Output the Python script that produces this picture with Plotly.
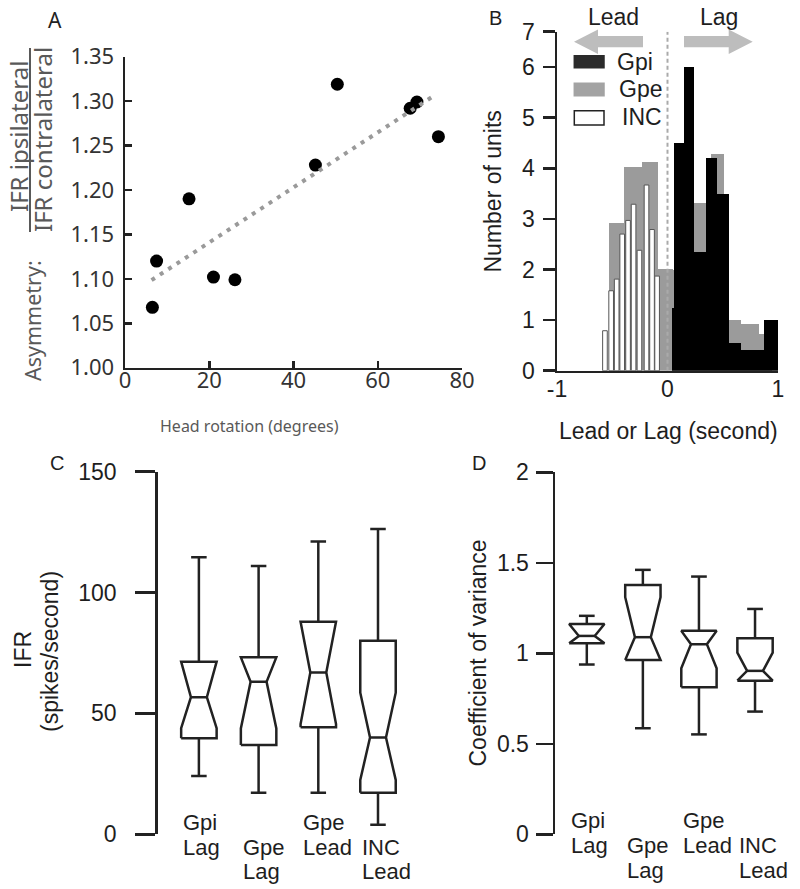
import numpy as np
import plotly.graph_objects as go

W, H = 800, 889

# ---------------- Panel A data ----------------
head_rotation = [6.5, 7.5, 15.2, 21.0, 26.1, 45.2, 50.4, 67.7, 69.3, 74.4]
asymmetry = [1.068, 1.120, 1.190, 1.102, 1.099, 1.228, 1.319, 1.292, 1.299, 1.260]
fit_span = [6.3, 73.2]
a_xticks = [0, 20, 40, 60, 80]
a_yticks = [1.00, 1.05, 1.10, 1.15, 1.20, 1.25, 1.30, 1.35]

# ---------------- Panel B data ----------------
gpi_edges = [0.04, 0.056, 0.147, 0.242, 0.345, 0.448, 0.558, 0.664, 0.773, 0.876, 1.0]
gpi_counts = [1.23, 4.5, 6.0, 2.35, 4.2, 3.5, 0.54, 0.41, 0.41, 1.0]
gpe_edges = [-0.53, -0.39, -0.23, -0.085, 0.05, 0.24, 0.39, 0.51, 0.664, 0.83, 0.95]
gpe_counts = [2.91, 4.03, 4.12, 2.01, 2.0, 3.32, 4.29, 1.0, 0.92, 0.72]
inc_centers = [-0.566, -0.51, -0.46, -0.41, -0.357, -0.307, -0.254, -0.19, -0.14, -0.094]
inc_counts = [0.79, 1.58, 1.81, 2.70, 2.97, 3.29, 2.38, 3.67, 2.79, 1.87]
b_yticks = [0, 1, 2, 3, 4, 5, 6, 6.7]
b_yticktext = ["0", "1", "2", "3", "4", "5", "6", "7"]
b_xticks = [-1, 0, 1]
b_xticktext = ["-1", "0", "1"]

# ---------------- Panel C / D data ----------------
group_lines = [["Gpi", "Lag"], ["Gpe", "Lag"], ["Gpe", "Lead"], ["INC", "Lead"]]
# stats order: lower whisker, q1, notch low, median, notch high, q3, upper whisker
ifr_stats = [
    [24.1, 39.7, 43.9, 56.7, 71.4, 71.4, 114.6],
    [17.2, 36.9, 43.8, 63.1, 73.2, 73.2, 111.0],
    [17.2, 44.3, 45.6, 66.9, 87.9, 87.9, 121.1],
    [3.9, 17.2, 22.5, 40.0, 58.6, 80.1, 126.3],
]
cv_stats = [
    [0.938, 1.056, 1.056, 1.096, 1.162, 1.162, 1.207],
    [0.586, 0.963, 0.963, 1.089, 1.310, 1.378, 1.461],
    [0.552, 0.8125, 0.9175, 1.050, 1.124, 1.124, 1.424],
    [0.678, 0.849, 0.849, 0.903, 1.004, 1.083, 1.245],
]
c_yticks = [0, 50, 100, 150]
d_yticks = [0, 0.5, 1, 1.5, 2]
d_yticktext = ["0", "0.5", "1", "1.5", "2"]

# ---------------- helpers ----------------
def px(x):
    return x / W

def py(y):
    return 1 - y / H

ARIAL = "Liberation Sans, Arial, sans-serif"
NOTO = "Noto Sans, sans-serif"
DARK = "#1e1e1e"
GREY_T = "#595959"
FS = 23

fig = go.Figure()

# ---- Panel A ----
fig.add_trace(go.Scatter(
    x=head_rotation, y=asymmetry, mode="markers",
    marker=dict(size=13, color="black"), xaxis="x", yaxis="y", showlegend=False,
    hoverinfo="skip", cliponaxis=False))
slope, intercept = np.polyfit(head_rotation, asymmetry, 1)
fx = np.array(fit_span)
fig.add_trace(go.Scatter(
    x=fx, y=slope * fx + intercept, mode="lines",
    line=dict(color="#9a9a9a", width=4, dash="4px,6px"),
    xaxis="x", yaxis="y", showlegend=False, hoverinfo="skip"))

# ---- Panel B ----
def edges_to_bars(edges):
    e = np.array(edges)
    return (e[:-1] + e[1:]) / 2, np.diff(e)

gpe_x, gpe_w = edges_to_bars(gpe_edges)
gpi_x, gpi_w = edges_to_bars(gpi_edges)
fig.add_trace(go.Bar(x=gpe_x, y=gpe_counts, width=gpe_w, marker=dict(color="#9b9b9b", line=dict(width=0)),
                     xaxis="x2", yaxis="y2", showlegend=False, hoverinfo="skip"))
fig.add_trace(go.Bar(x=inc_centers, y=inc_counts, width=[0.042] * len(inc_centers),
                     marker=dict(color="white", line=dict(color="#555555", width=1)),
                     xaxis="x2", yaxis="y2", showlegend=False, hoverinfo="skip"))
fig.add_trace(go.Bar(x=gpi_x, y=gpi_counts, width=gpi_w, marker=dict(color="black", line=dict(width=0)),
                     xaxis="x2", yaxis="y2", showlegend=False, hoverinfo="skip"))
fig.add_trace(go.Scatter(x=[0, 0], y=[0, b_yticks[-1]], mode="lines",
                         line=dict(color="#aaaaaa", width=2, dash="4px,3px"),
                         xaxis="x2", yaxis="y2", showlegend=False, hoverinfo="skip"))

# ---- Panels C, D (notched boxes) ----
def box_trace(stats, half, inset_frac, cap, xa, ya):
    xs, ys = [], []
    for i, (lo, q1, nlo, med, nhi, q3, hi) in enumerate(stats):
        p = i + 1
        l, r = p - half, p + half
        ins = half * inset_frac
        xs += [l, l, l + ins, l, l, r, r, r - ins, r, r, l, None]
        ys += [q1, nlo, med, nhi, q3, q3, nhi, med, nlo, q1, q1, None]
        xs += [l + ins, r - ins, None]
        ys += [med, med, None]
        xs += [p, p, None, p - cap, p + cap, None, p, p, None, p - cap, p + cap, None]
        ys += [q3, hi, None, hi, hi, None, q1, lo, None, lo, lo, None]
    return go.Scatter(x=xs, y=ys, mode="lines", line=dict(color="#222222", width=2.5),
                      xaxis=xa, yaxis=ya, showlegend=False, hoverinfo="skip")

fig.add_trace(box_trace(ifr_stats, 0.297, 0.55, 0.13, "x3", "y3"))
fig.add_trace(box_trace(cv_stats, 0.315, 0.55, 0.14, "x4", "y4"))

# ---------------- axes ----------------
axis_common = dict(showgrid=False, zeroline=False, showline=True, linecolor="#222222",
                   linewidth=2.5, tickcolor="#222222", tickwidth=2.5, automargin=False)

fig.update_layout(
    template="none",
    width=W, height=H, margin=dict(l=0, r=0, t=0, b=0, pad=0), autosize=False,
    paper_bgcolor="white", plot_bgcolor="white", barmode="overlay", bargap=0,
    showlegend=False,
    xaxis=dict(domain=[px(125), px(462)], range=[0, 80], tickvals=a_xticks, ticks="inside", ticklen=7,
               ticklabelstandoff=-9,
               tickfont=dict(family=NOTO, size=22, color="#333333"), anchor="y", **axis_common),
    yaxis=dict(domain=[py(367.7), py(56.7)], range=[1.0, 1.35], tickvals=a_yticks, tickformat=".2f",
               ticks="inside", ticklen=7, ticklabelstandoff=4,
               tickfont=dict(family=NOTO, size=22, color="#333333"), anchor="x", **axis_common),
    xaxis2=dict(domain=[px(557), px(778)], range=[-1, 1], tickvals=b_xticks, ticktext=b_xticktext, ticks="",
                ticklabelstandoff=-4,
                tickfont=dict(family=ARIAL, size=FS, color=DARK), anchor="y2", **axis_common),
    yaxis2=dict(domain=[py(370.7), py(31.7)], range=[0, 6.7], tickvals=b_yticks, ticktext=b_yticktext,
                ticks="outside", ticklen=12, ticklabelstandoff=3,
                tickfont=dict(family=ARIAL, size=FS, color=DARK),
                anchor="x2", **axis_common),
    xaxis3=dict(domain=[px(157.7), px(430)], range=[0.31, 4.871], visible=False, anchor="y3"),
    yaxis3=dict(domain=[py(834.3), py(471.7)], range=[0, 150], tickvals=c_yticks,
                ticks="outside", ticklen=20, ticklabelstandoff=14,
                tickfont=dict(family=ARIAL, size=FS, color=DARK), anchor="x3", **axis_common),
    xaxis4=dict(domain=[px(555), px(800)], range=[0.433, 4.802], visible=False, anchor="y4"),
    yaxis4=dict(domain=[py(834.3), py(472.3)], range=[0, 2], tickvals=d_yticks, ticktext=d_yticktext,
                ticks="outside", ticklen=17, ticklabelstandoff=2,
                tickfont=dict(family=ARIAL, size=FS, color=DARK), anchor="x4", **axis_common),
)

# ---------------- annotations ----------------
ann = []

def text(x, y, s, size, family=ARIAL, color=DARK, angle=0, xanchor="center"):
    ann.append(dict(x=px(x), y=py(y), xref="paper", yref="paper", text=s, showarrow=False,
                    font=dict(family=family, size=size, color=color), textangle=angle,
                    xanchor=xanchor, yanchor="middle"))

# panel letters
text(55, 20, "A", 21, family=NOTO, color="#222222")
text(495, 18, "B", 20)
text(57, 463, "C", 20)
text(479, 463, "D", 20)

# Panel A titles
text(249, 426, "Head rotation (degrees)", 16, family=NOTO, color=GREY_T)
text(32, 321, "Asymmetry:", 21.5, family=NOTO, color=GREY_T, angle=-90)
text(18, 137, "IFR ipsilateral", 24, family=NOTO, color=GREY_T, angle=-90)
text(43, 140, "IFR contralateral", 24, family=NOTO, color=GREY_T, angle=-90)

# Panel B titles
text(668, 431, "Lead or Lag (second)", FS)
text(492.5, 192, "Number of units", FS, angle=-90)
text(613, 17, "Lead", FS)
text(718.5, 17, "Lag", FS)
text(615, 61.7, "Gpi", FS, xanchor="left")
text(617, 89.3, "Gpe", FS, xanchor="left")
text(620, 117.3, "INC", FS, xanchor="left")

# Panel C / D titles
text(23, 650, "IFR", FS, angle=-90)
text(50, 652, "(spikes/second)", FS, angle=-90)
text(477, 652.5, "Coefficient of variance", FS, angle=-90)

# category labels
def cat_labels(xa, ya, half, shifts):
    for i, lines in enumerate(group_lines):
        s1, s2 = shifts[i % 2]
        for line, sh in zip(lines, (s1, s2)):
            ann.append(dict(x=i + 1 - half, y=0, xref=xa, yref=ya, text=line, showarrow=False,
                            xanchor="left", yanchor="middle", yshift=sh,
                            font=dict(family=ARIAL, size=22, color=DARK)))

cat_labels("x3", "y3", 0.297, [(12, -13.4), (-13.4, -37.4)])
cat_labels("x4", "y4", 0.315, [(14.3, -10.7), (-10.7, -35.7)])

fig.update_layout(annotations=ann)

# ---------------- shapes ----------------
shapes = []
shapes.append(dict(type="line", xref="paper", yref="paper", x0=px(30), x1=px(30), y0=py(48), y1=py(232),
                   line=dict(color=GREY_T, width=2)))

def arrow(tip, base, end, yc, hh=12.3, sh=5.6):
    pts = [(tip, yc), (base, yc - hh), (base, yc - sh), (end, yc - sh), (end, yc + sh),
           (base, yc + sh), (base, yc + hh)]
    path = "M " + " L ".join(f"{px(a):.5f},{py(b):.5f}" for a, b in pts) + " Z"
    return dict(type="path", xref="paper", yref="paper", path=path,
                fillcolor="#bdbdbd", line=dict(width=0))

shapes.append(arrow(574, 598, 643, 41.7))
shapes.append(arrow(752.7, 728.7, 684, 41.7))

for (y0, y1), fc, lc in [((55.7, 67.7), "#2b2b2b", "#2b2b2b"),
                         ((83.3, 95.7), "#a3a3a3", "#a3a3a3"),
                         ((110.7, 125), "white", "#222222")]:
    shapes.append(dict(type="rect", xref="paper", yref="paper", x0=px(574.3), x1=px(604),
                       y0=py(y1), y1=py(y0), fillcolor=fc, line=dict(color=lc, width=1.5)))

fig.update_layout(shapes=shapes)

fig.write_html(
    "out.html",
    config={"displayModeBar": False, "staticPlot": True},
    post_script="document.body.style.margin='0';document.body.style.padding='0';"
                "document.documentElement.style.overflow='hidden';",
)
